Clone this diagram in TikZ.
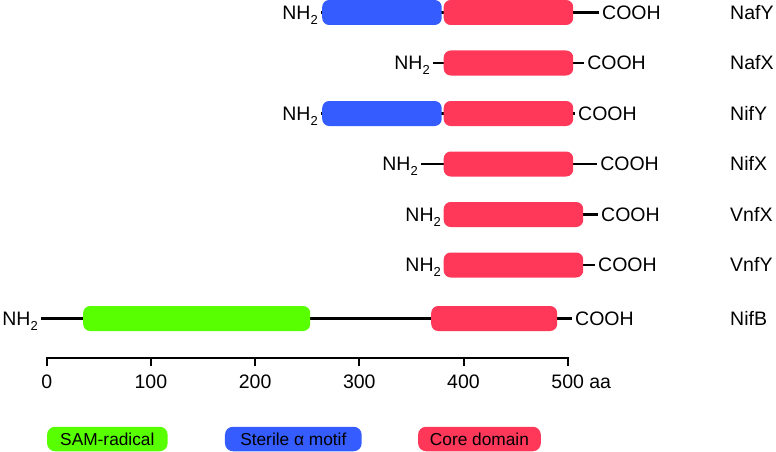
\documentclass[tikz,border=0pt]{standalone}
\usepackage{fontspec}
\setmainfont{Liberation Sans}
\usetikzlibrary{positioning}

\definecolor{samgreen}{RGB}{88,255,0}
\definecolor{motifblue}{RGB}{52,92,255}
\definecolor{corered}{RGB}{255,56,90}

\def\nhtwo{NH\raisebox{-5pt}{\fontsize{13}{13}\selectfont 2}}

\begin{document}
\begin{tikzpicture}[x=1.042pt,y=-1pt,
  term/.style={inner xsep=3pt,inner ysep=0pt,text height=13.6pt,text depth=0pt,
    font=\fontsize{19.5}{22}\selectfont},
  dom/.style={rounded corners=7pt,minimum height=25pt,inner sep=0pt,anchor=west},
  bone/.style={line width=2.2pt},
  key/.style={rounded corners=8pt,minimum height=24.5pt,inner sep=0pt,
    text height=12.4pt,text depth=0pt,font=\fontsize{17.3}{20}\selectfont}]
  % x in aa (0 at the axis origin), y in pt downwards
  \useasboundingbox (-44.82,0) rectangle (699.9,452);
  % N- and C-termini, names
  \node[term,anchor=east] (nafyN) at (263.2,12.5) {\nhtwo};
  \node[term,anchor=west] (nafyC) at (530.0,12.5) {COOH};
  \node[term,anchor=east] (nafxN) at (370.7,63) {\nhtwo};
  \node[term,anchor=west] (nafxC) at (515.7,63) {COOH};
  \node[term,anchor=east] (nifyN) at (263.2,113.5) {\nhtwo};
  \node[term,anchor=west] (nifyC) at (507.0,113.5) {COOH};
  \node[term,anchor=east] (nifxN) at (359.2,164) {\nhtwo};
  \node[term,anchor=west] (nifxC) at (528.2,164) {COOH};
  \node[term,anchor=east] (vnfxN) at (381.3,214.5) {\nhtwo};
  \node[term,anchor=west] (vnfxC) at (529.1,214.5) {COOH};
  \node[term,anchor=east] (vnfyN) at (381.3,265) {\nhtwo};
  \node[term,anchor=west] (vnfyC) at (526.2,265) {COOH};
  \node[term,anchor=east] (nifbN) at (-5.5,318.5) {\nhtwo};
  \node[term,anchor=west] (nifbC) at (504.1,318.5) {COOH};
  \foreach \p/\nm/\y in {nafy/NafY/12.5,nafx/NafX/63,nify/NifY/113.5,nifx/NifX/164,
      vnfx/VnfX/214.5,vnfy/VnfY/265,nifb/NifB/318.5}
    \node[term,anchor=west] (\p Name) at (652.9,\y) {\nm};
  % backbones
  \foreach \p in {nafy,nafx,nify,nifx,vnfx,vnfy,nifb}
    \draw[bone] (\p N) -- (\p C);
  % domains: name/colour/start/end/row
  \foreach \nm/\col/\a/\b/\y in {nafyMotif/motifblue/264.2/378.9/12.5,
      nafyCore/corered/380.8/505.1/12.5,
      nafxCore/corered/380.8/505.1/63,
      nifyMotif/motifblue/264.2/378.9/113.5,
      nifyCore/corered/380.8/505.1/113.5,
      nifxCore/corered/380.8/505.1/164,
      vnfxCore/corered/380.8/514.7/214.5,
      vnfyCore/corered/380.8/514.7/265,
      nifbSam/samgreen/34.8/252.7/318.5,
      nifbCore/corered/368.8/489.7/318.5}
    \node[dom,fill=\col,minimum width={(\b-\a)*1.042pt}] (\nm) at (\a,\y) {};
  % scale
  \draw[line width=2.2pt] (0,358) -- (500,358);
  \foreach \t in {0,100,...,500}
    \draw[line width=2pt] (\t,357) -- (\t,366);
  \foreach \t in {0,100,...,400}
    \node[term,inner sep=0pt,anchor=north] (tick\t) at (\t,375) {\t};
  \node[term,inner sep=0pt,anchor=north] (tick500) at (500,375) {500\rlap{ aa}};
  % legend
  \node[key,fill=samgreen,minimum width=120.6pt] (keySam) at (58.2,439) {SAM-radical};
  \node[key,fill=motifblue,minimum width=136.7pt] (keyMotif) at (236.7,439) {Sterile α motif};
  \node[key,fill=corered,minimum width=122.7pt] (keyCore) at (415.3,439) {Core domain};
\end{tikzpicture}
\end{document}
